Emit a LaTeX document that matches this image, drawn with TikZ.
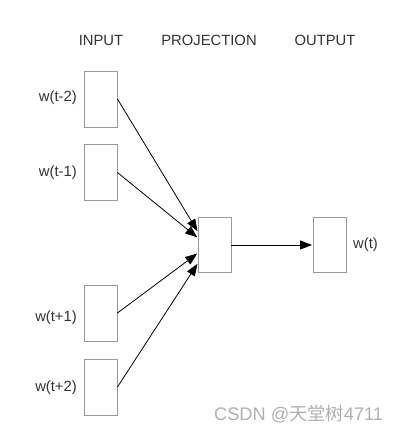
\documentclass[tikz,border=0pt]{standalone}
\usepackage{fontspec}
\setmainfont{Liberation Sans}
\newfontfamily\cjkfont{Noto Sans CJK SC}
\usetikzlibrary{arrows.meta}
\definecolor{txt}{HTML}{333333}
\definecolor{boxline}{HTML}{999999}
\definecolor{wmark}{HTML}{B0B0B0}
\tikzset{
  unitbox/.style={draw=boxline, line width=0.9pt, minimum width=33pt, minimum height=56pt, inner sep=0pt},
  lbl/.style={text=txt, font=\fontsize{14.8}{16}\selectfont, inner sep=0pt},
  conn/.style={draw=black, line width=0.8pt, -{Triangle[length=12pt,width=9pt]}, shorten >=1pt}
}
\begin{document}
\begin{tikzpicture}[x=1pt,y=-1pt]
\useasboundingbox (0,0) rectangle (401,436);
% headers
\node[lbl] (hin) at (101,40) {INPUT};
\node[lbl] (hproj) at (209,40) {PROJECTION};
\node[lbl] (hout) at (325,40) {OUTPUT};
% input boxes
\node[unitbox] (i1) at (100.5,99) {};
\node[unitbox] (i2) at (100.5,172.5) {};
\node[unitbox] (i3) at (100.5,313) {};
\node[unitbox] (i4) at (100.5,387) {};
\node[lbl, anchor=east] (l1) at (77,98) {w(t-2)};
\node[lbl, anchor=east] (l2) at (77,173) {w(t-1)};
\node[lbl, anchor=east] (l3) at (77,318) {w(t+1)};
\node[lbl, anchor=east] (l4) at (77,388) {w(t+2)};
% projection and output
\node[unitbox, minimum height=55pt] (p) at (214.5,245) {};
\node[unitbox, minimum height=55pt] (o) at (330,245) {};
\node[lbl, anchor=west] (lo) at (353,245) {w(t)};
% arrow targets
\coordinate (t1) at (198,232);
\coordinate (t2) at (198,238);
\coordinate (t3) at (198,253);
\coordinate (t4) at (198,263);
\draw[conn] (i1.east) -- (t1);
\draw[conn] (i2.east) -- (t2);
\draw[conn] (i3.east) -- (t3);
\draw[conn] (i4.east) -- (t4);
\draw[conn] (p.east) -- (o.west);
% watermark
\node[text=wmark, font=\fontsize{18.2}{20}\selectfont, anchor=west, inner sep=0pt] (wm) at (214,414) {CSDN @{\cjkfont 天堂树}4711};
\end{tikzpicture}
\end{document}
